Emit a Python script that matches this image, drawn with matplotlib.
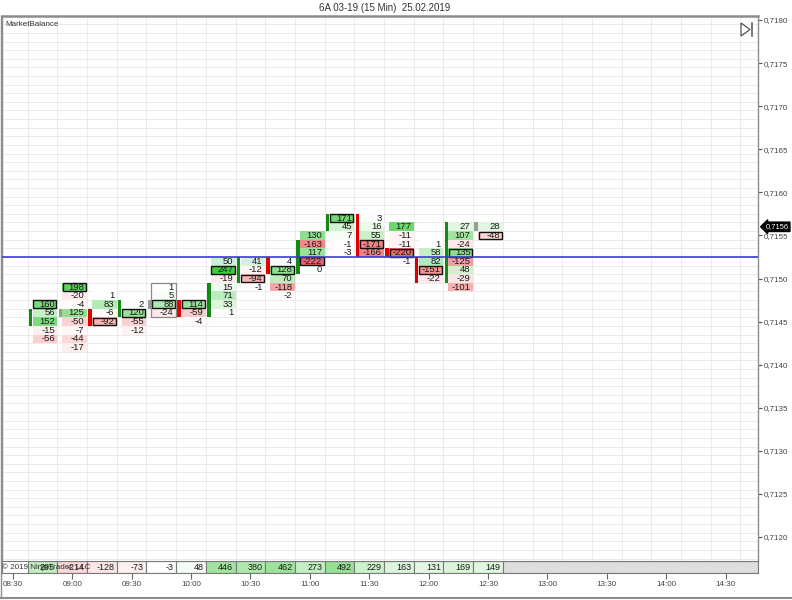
import matplotlib
matplotlib.use('Agg')
import matplotlib.pyplot as plt
from matplotlib.patches import Rectangle, Polygon
from matplotlib.lines import Line2D
import matplotlib.transforms as mtrans
import numpy as np

plt.rcParams['font.family'] = ['Liberation Sans', 'DejaVu Sans']

# ---------------- data ----------------
title = "6A 03-19 (15 Min)  25.02.2019"
indicator_name = "MarketBalance"
bar_times = ['08:45', '09:00', '09:15', '09:30', '09:45', '10:00', '10:15', '10:30',
             '10:45', '11:00', '11:15', '11:30', '11:45', '12:00', '12:15', '12:30']
top_price = [0.7147, 0.7149, 0.7148, 0.7147, 0.7149, 0.7147, 0.7152, 0.7152,
             0.7152, 0.7155, 0.7157, 0.7157, 0.7156, 0.7154, 0.7156, 0.7156]
cell_values = [
    [160, 56, 152, -15, -56],
    [198, -20, -4, 125, -50, -7, -44, -17],
    [1, 83, -6, -92],
    [2, 120, -55, -12],
    [1, 5, 88, -24],
    [114, -59, -4],
    [50, 247, -19, 15, 71, 33, 1],
    [41, -12, -94, -1],
    [4, 128, 70, -118, -2],
    [130, -163, 117, -222, 0],
    [171, 45, 7, -1, -3],
    [3, 16, 55, -171, -166],
    [177, -11, -11, -220, -1],
    [1, 58, 82, -151, -22],
    [27, 107, -24, 135, -125, 48, -29, -101],
    [28, -48],
]
bar_body_low = [0.7145, 0.7146, 0.7145, 0.7146, 0.7147, 0.7146, 0.7146, 0.7150,
                0.7151, 0.7151, 0.7156, 0.7153, 0.7153, 0.7150, 0.7150, 0.7156]
bar_body_high = [0.7146, 0.7146, 0.7146, 0.7147, 0.7147, 0.7147, 0.7149, 0.7152,
                 0.7152, 0.7154, 0.7157, 0.7157, 0.7153, 0.7152, 0.7156, 0.7156]
bar_direction = ['up', 'flat', 'down', 'up', 'flat', 'down', 'up', 'up',
                 'down', 'up', 'up', 'down', 'down', 'down', 'up', 'flat']
bar_delta = [295, -214, -128, -73, -3, 48, 446, 380, 462, 273, 492, 229, 163, 131, 169, 149]
outlined_bar = 4
outlined_range = (0.7146, 0.7149)
price_ticks = [0.7120, 0.7125, 0.7130, 0.7135, 0.7140, 0.7145, 0.7150,
               0.7155, 0.7160, 0.7165, 0.7170, 0.7175, 0.7180]
time_labels = ['08:30', '09:00', '09:30', '10:00', '10:30', '11:00', '11:30',
               '12:00', '12:30', '13:00', '13:30', '14:00', '14:30']
last_price = 0.7156
line_price = 0.715255
copyright_text = "© 2019 NinjaTrader, LLC"

# ---------------- layout ----------------
W, H = 792, 600
fig = plt.figure(figsize=(7.92, 6.0), dpi=100)
fig.patch.set_facecolor('white')

def fx(px):
    return px / W

def fy(py):
    return 1 - py / H

PL, PR, PT, PB, SB = 2, 758, 16, 561, 573
ax = fig.add_axes([fx(PL), fy(PB), fx(PR) - fx(PL), fy(PT) - fy(PB)])
sx = fig.add_axes([fx(PL), fy(SB), fx(PR) - fx(PL), fy(PB) - fy(SB)], sharex=ax)

X0, DX = 42.5, 29.7
ulo, uhi = (PL - X0) / DX, (PR - X0) / DX
TICK = 0.0001
PXT = 8.617
ylo = 0.7180 - (PB - 20) / PXT * TICK
yhi = 0.7180 + (20 - PT) / PXT * TICK
ax.set_xlim(ulo, uhi)
ax.set_ylim(ylo, yhi)

GRID = '#ebebeb'
# horizontal grid at row boundaries
p = np.round(ylo / TICK) * TICK - TICK / 2
while p < yhi:
    ax.axhline(p, color=GRID, lw=0.7, zorder=0)
    p += TICK
# vertical grid at column boundaries
for k in range(-2, 26):
    ax.axvline(k - 0.5, color=GRID, lw=0.7, zorder=0)


def cell_color(v, scale=250.0):
    f = min(abs(v) / scale, 1.0) ** 0.85
    if v >= 0:
        base = np.array([60, 200, 60]) / 255
    else:
        base = np.array([236, 84, 84]) / 255
    return tuple(1 - f * (1 - base))


bar_w = 3.5 / DX
cell_l = 5.0 / DX
for k, (top, vals) in enumerate(zip(top_price, cell_values)):
    amax = int(np.argmax(np.abs(vals)))
    left = k - 0.5 + cell_l
    right = k + 0.5
    for i, v in enumerate(vals):
        pr = top - i * TICK
        ax.add_patch(Rectangle((left, pr - TICK / 2), right - left, TICK,
                               fc=cell_color(v), ec='none', zorder=2))
        if i == amax:
            ax.add_patch(Rectangle((left + 0.5 / DX, pr - TICK / 2 + 0.05 * TICK),
                                   right - left - 1.5 / DX, TICK * 0.9,
                                   fc='none', ec='#111111', lw=1.0, zorder=4))
        ax.text(right - 2.5 / DX, pr, str(v), ha='right', va='center',
                fontsize=6.8, color='#1a1a1a', zorder=5)
    # candle body
    d = bar_direction[k]
    col = {'up': '#138a13', 'down': '#e00000', 'flat': '#9a9a9a'}[d]
    lo, hi = bar_body_low[k], bar_body_high[k]
    ax.add_patch(Rectangle((k - 0.5 + 1.2 / DX, lo - TICK / 2), bar_w,
                           hi - lo + TICK, fc=col, ec='none', zorder=3))

# outlined range box
lo, hi = outlined_range
ax.add_patch(Rectangle((outlined_bar - 0.5 + cell_l, lo - TICK / 2),
                       1 - cell_l - 0.5 / DX, hi - lo + TICK,
                       fc='none', ec='#8a8a8a', lw=0.9, zorder=4))

# blue horizontal line
ax.axhline(line_price, color='#3a3ae0', lw=1.2, zorder=6)

# axes styling
ax.tick_params(axis='x', bottom=False, labelbottom=False)
ax.yaxis.tick_right()
ax.set_yticks(price_ticks)
ax.set_yticklabels([f"{v:.4f}".replace('.', ',') for v in price_ticks])
ax.tick_params(axis='y', length=3, width=0.8, color='#555555', labelsize=5.8,
               labelcolor='#444444', pad=1.5)
ax.spines['bottom'].set_visible(False)
ax.spines['top'].set_color('#8c8c8c')
ax.spines['top'].set_linewidth(1.8)
ax.spines['left'].set_color('#8c8c8c')
ax.spines['left'].set_linewidth(1.0)
ax.spines['right'].set_color('#8c8c8c')
ax.spines['right'].set_linewidth(1.0)

ax.text(3 / (PR - PL), 1 - 8 / (PB - PT), indicator_name, transform=ax.transAxes,
        ha='left', va='center', fontsize=5.8, color='#333333', zorder=7)

# last price tag
ax.annotate(f"{last_price:.4f}".replace('.', ','), xy=(1.0, last_price),
            xycoords=mtrans.blended_transform_factory(ax.transAxes, ax.transData),
            xytext=(5.5, 0), textcoords='offset points', ha='left', va='center',
            fontsize=5.4, color='white', annotation_clip=False,
            bbox=dict(boxstyle='larrow,pad=0.16', fc='black', ec='black'))

# ---------------- bottom strip ----------------
sx.set_ylim(0, 1)
def strip_color(v):
    f = min(abs(v) / 900.0, 1.0)
    base = np.array([60, 200, 60]) / 255 if v >= 0 else np.array([236, 84, 84]) / 255
    return tuple(1 - f * (1 - base))

nb = len(bar_delta)
for k, v in enumerate(bar_delta):
    sx.add_patch(Rectangle((k - 0.5, 0), 1, 1, fc=strip_color(v), ec='#7a7a7a', lw=0.8))
    sx.text(k + 0.5 - 2.5 / DX, 0.5, str(v), ha='right', va='center', fontsize=6.5,
            color='#1a1a1a')
sx.add_patch(Rectangle((nb - 0.5, 0), uhi - (nb - 0.5), 1, fc='#dedede', ec='#7a7a7a', lw=0.8))
sx.text(0.5 / (PR - PL), 0.5, copyright_text, transform=sx.transAxes, ha='left',
        va='center', fontsize=5.8, color='#333333', zorder=8)
for s in sx.spines.values():
    s.set_color('#7a7a7a')
    s.set_linewidth(0.8)
sx.set_yticks([])
sx.set_xticks([-1 + 2 * i for i in range(len(time_labels))])
sx.set_xticklabels(time_labels)
sx.tick_params(axis='x', length=4, width=0.8, color='#666666', labelsize=5.8,
               labelcolor='#444444', pad=2)
sx.set_xlim(ulo, uhi)

# ---------------- figure decorations ----------------
fig.text(fx(385), fy(8), title, ha='center', va='center', fontsize=7, color='#333333')
# play-to-end icon
tri = Polygon([[fx(741), fy(23)], [fx(750), fy(29.5)], [fx(741), fy(36)]], closed=True,
              fill=False, ec='#555555', lw=0.9, transform=fig.transFigure)
fig.add_artist(tri)
fig.add_artist(Line2D([fx(752), fx(752)], [fy(23), fy(36)], color='#555555', lw=1.1,
                      transform=fig.transFigure))
# outer frame
fig.add_artist(Line2D([fx(1), fx(1)], [fy(16), fy(598)], color='#8c8c8c', lw=1.0,
                      transform=fig.transFigure))
fig.add_artist(Line2D([fx(0), fx(792)], [fy(598), fy(598)], color='#8c8c8c', lw=1.5,
                      transform=fig.transFigure))

fig.savefig('out.png', dpi=100)
